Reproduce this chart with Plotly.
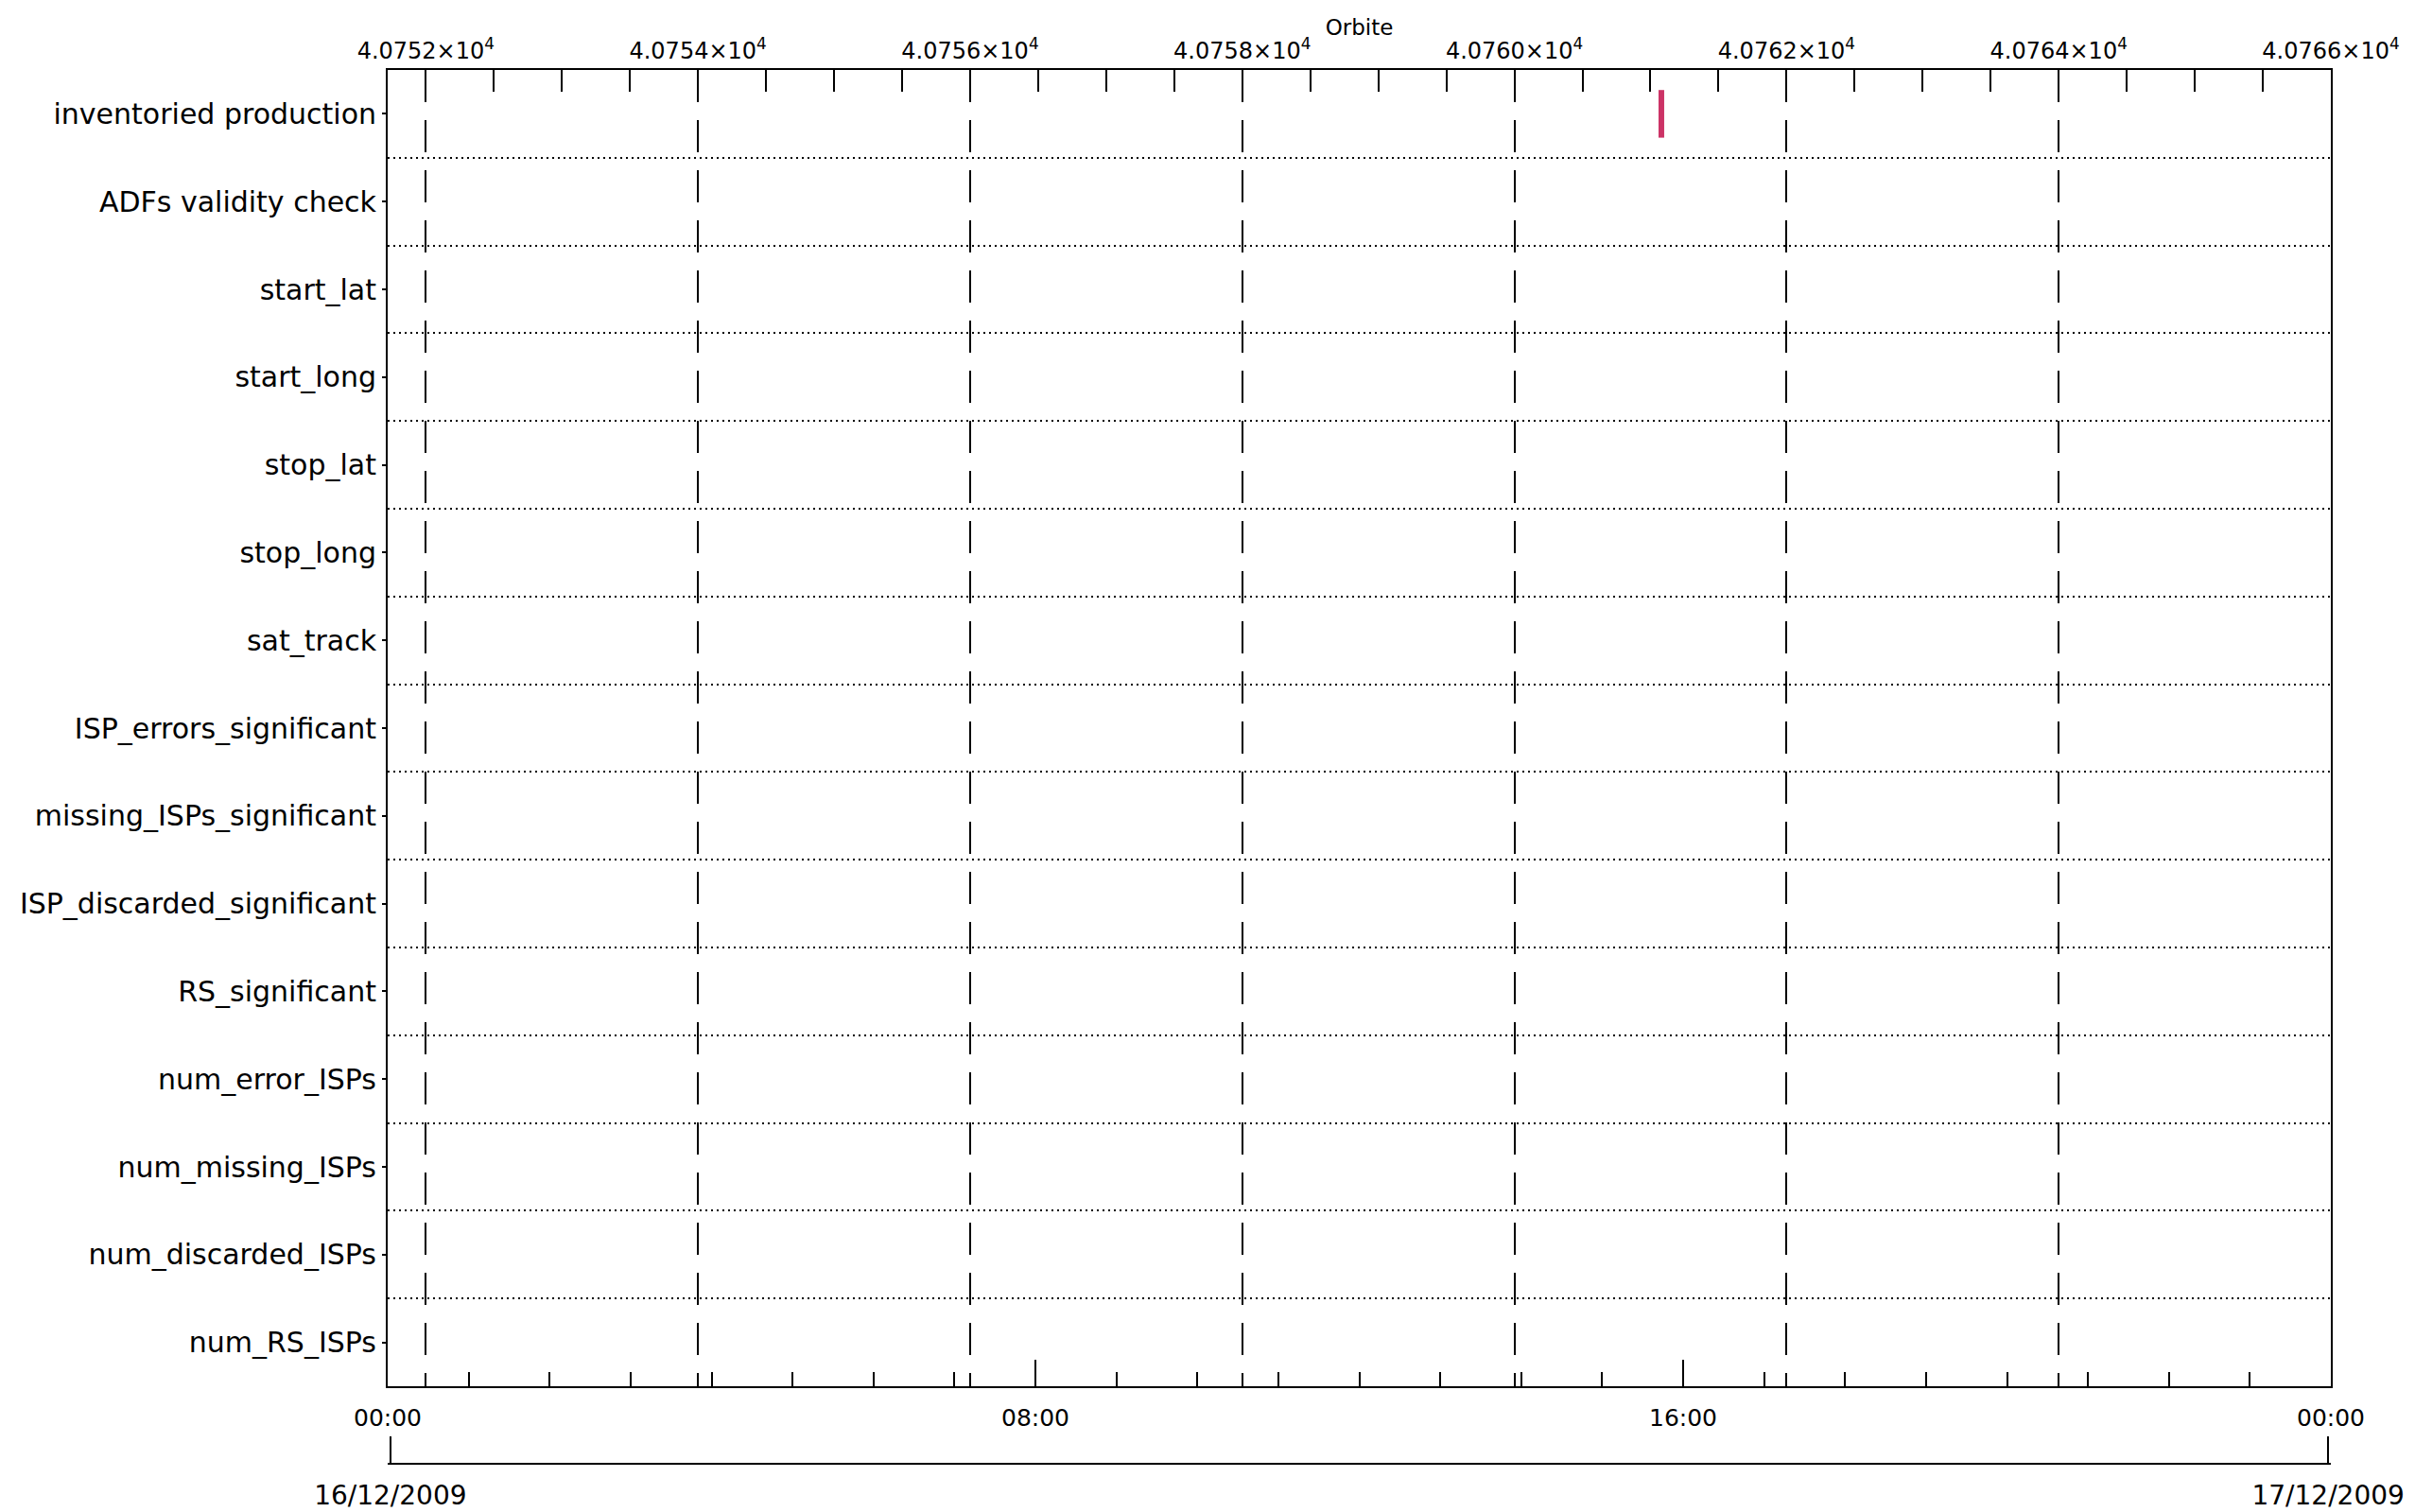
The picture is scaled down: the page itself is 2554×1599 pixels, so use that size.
import plotly.graph_objects as go

# ---- data ----
rows = ["inventoried production", "ADFs validity check", "start_lat", "start_long",
        "stop_lat", "stop_long", "sat_track", "ISP_errors_significant",
        "missing_ISPs_significant", "ISP_discarded_significant", "RS_significant",
        "num_error_ISPs", "num_missing_ISPs", "num_discarded_ISPs", "num_RS_ISPs"]

orbit_range = [40751.72, 40766.0]
orbit_ticks = [40752, 40754, 40756, 40758, 40760, 40762, 40764, 40766]
orbit_tick_labels = [f"{v/1e4:.4f}×10<sup>4</sup>" for v in orbit_ticks]

time_range = ["2009-12-16 00:00", "2009-12-17 00:00"]
time_ticks = ["2009-12-16 00:00", "2009-12-16 08:00", "2009-12-16 16:00", "2009-12-17 00:00"]
time_tick_labels = ["00:00", "08:00", "16:00", "00:00"]
date_range = ["2009-12-15 23:58", "2009-12-17 00:02"]
date_ticks = ["2009-12-16 00:00", "2009-12-17 00:00"]
date_tick_labels = ["16/12/2009", "17/12/2009"]

event_orbits = [40761.08]
event_rows = ["inventoried production"]
event_color = "#cc3366"

FONT = "DejaVu Sans"

fig = go.Figure()

# empty traces so that the time axes are created (they draw nothing)
for xa in ["x", "x3"]:
    fig.add_trace(go.Scatter(x=time_range, y=[None, None], xaxis=xa, yaxis="y",
                             mode="lines", showlegend=False, hoverinfo="skip"))

fig.add_trace(go.Scatter(
    x=event_orbits,
    y=[rows.index(r) for r in event_rows],
    xaxis="x2", yaxis="y",
    mode="markers",
    marker=dict(symbol="line-ns", size=36, line=dict(width=6, color=event_color), color=event_color),
    showlegend=False, hoverinfo="skip",
))

n = len(rows)
fig.update_layout(
    width=2546, height=1591,
    paper_bgcolor="white", plot_bgcolor="white",
    margin=dict(l=402, r=89, t=66, b=51, autoexpand=False),
    showlegend=False,
    font=dict(family=FONT, color="black"),
    title=dict(text="Orbite", font=dict(family=FONT, size=23, color="black"),
               x=0.5, xref="paper", xanchor="center",
               y=1 - 21 / 1591, yref="container", yanchor="middle"),
    yaxis=dict(
        domain=[0.0556, 1],
        range=[n - 0.5, -0.5],
        tickmode="array", tickvals=list(range(n)), ticktext=rows,
        ticks="outside", ticklen=4, tickwidth=2, tickcolor="black",
        tickfont=dict(family=FONT, size=30, color="black"),
        ticklabelstandoff=0,
        showline=True, linewidth=2, linecolor="black", mirror=True,
        showgrid=False, zeroline=False,
        minor=dict(tickmode="array", tickvals=[i + 0.5 for i in range(n - 1)],
                   showgrid=True, griddash="2px,4px", gridcolor="black", gridwidth=2,
                   ticks=""),
    ),
    xaxis=dict(
        type="date", range=time_range, anchor="y",
        tickmode="array", tickvals=time_ticks, ticktext=time_tick_labels,
        ticks="inside", ticklen=28, tickwidth=2, tickcolor="black",
        tickfont=dict(family=FONT, size=25, color="black"),
        ticklabelstandoff=10,
        showline=True, linewidth=2, linecolor="black",
        showgrid=False, zeroline=False,
        minor=dict(dtick=3600000, tick0="2009-12-16 00:00", ticks="inside",
                   ticklen=15, tickwidth=2, tickcolor="black", showgrid=False),
    ),
    xaxis2=dict(
        range=orbit_range, overlaying="x", side="top", anchor="y",
        tickmode="array", tickvals=orbit_ticks, ticktext=orbit_tick_labels,
        ticks="inside", ticklen=24, tickwidth=2, tickcolor="black",
        tickfont=dict(family=FONT, size=24, color="black"),
        ticklabelstandoff=0,
        showline=True, linewidth=2, linecolor="black",
        showgrid=True, griddash="34px,19px", gridcolor="black", gridwidth=2,
        zeroline=False,
        minor=dict(dtick=0.5, tick0=40752, ticks="inside", ticklen=23,
                   tickwidth=2, tickcolor="black", showgrid=False),
    ),
    xaxis3=dict(
        type="date", range=date_range, overlaying="x", anchor="free", position=0,
        side="bottom",
        tickmode="array", tickvals=date_ticks, ticktext=date_tick_labels,
        ticks="inside", ticklen=28, tickwidth=2, tickcolor="black",
        tickfont=dict(family=FONT, size=28, color="black"),
        ticklabelstandoff=8,
        showline=True, linewidth=2, linecolor="black",
        showgrid=False, zeroline=False,
    ),
)

fig.write_html("out.html")
